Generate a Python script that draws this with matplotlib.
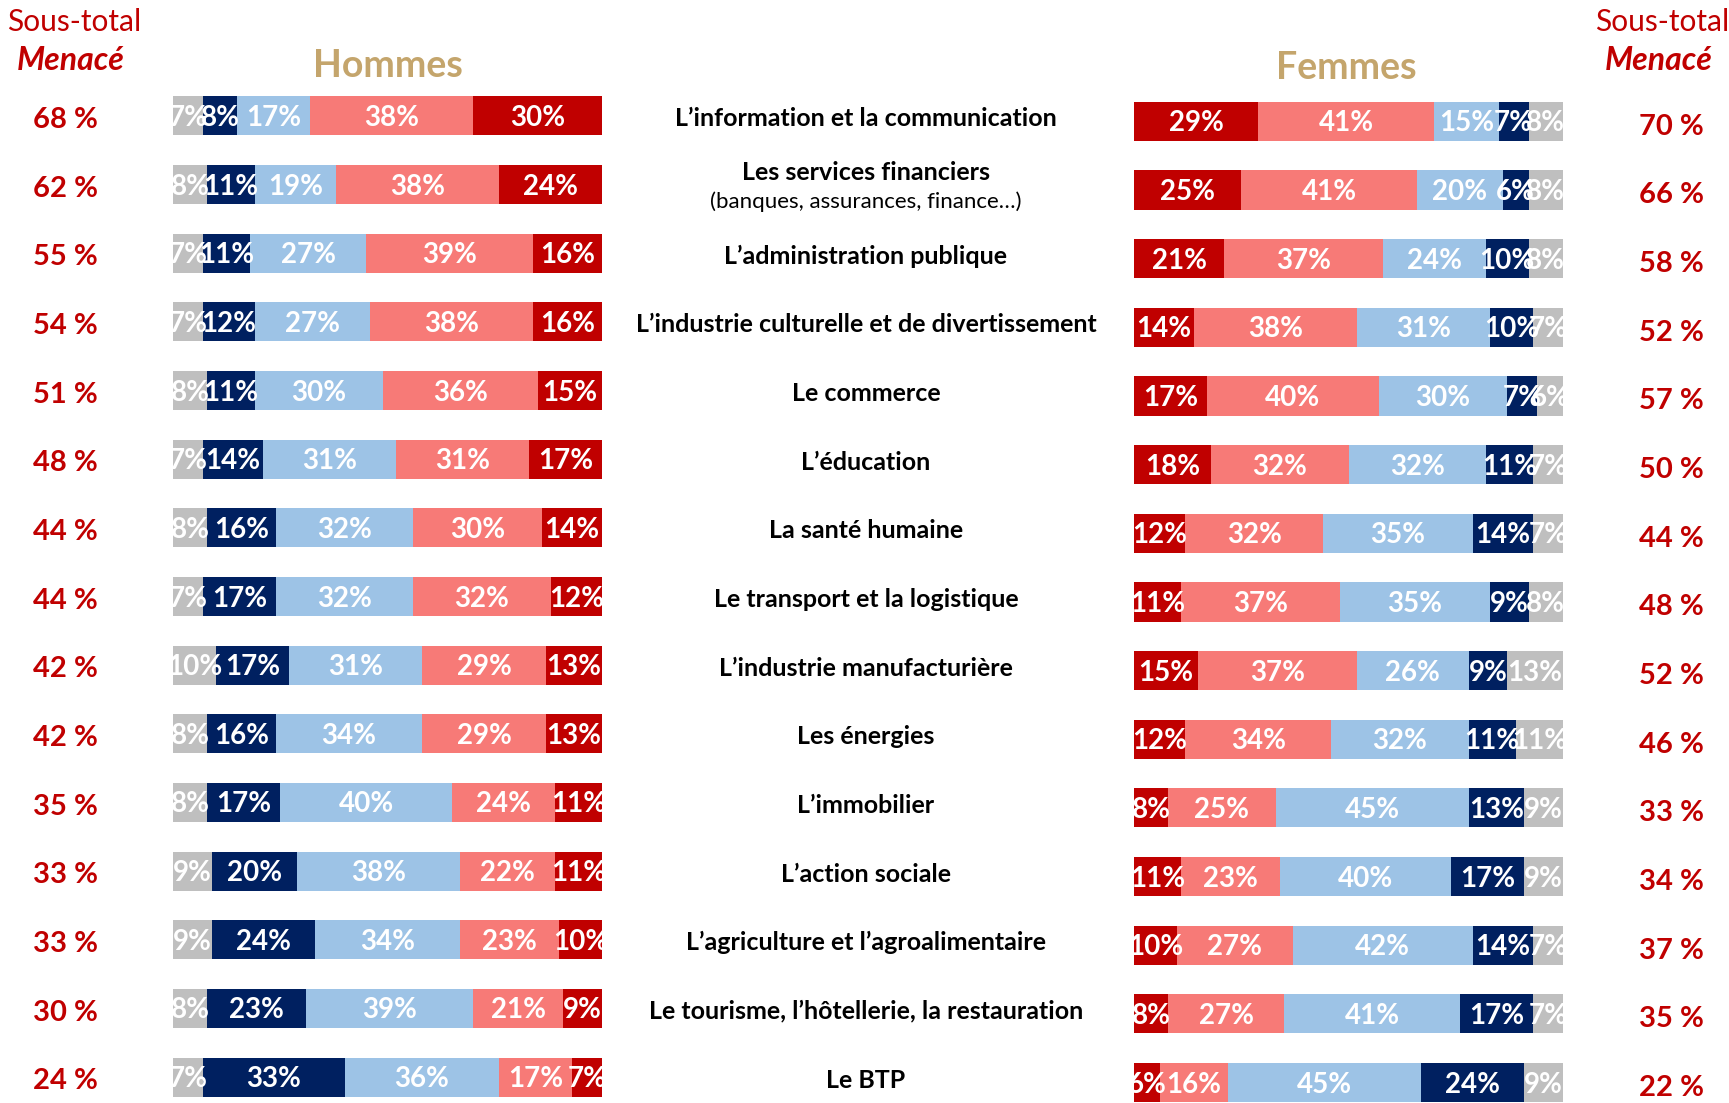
import matplotlib
matplotlib.use("Agg")
import matplotlib.pyplot as plt
from matplotlib.transforms import blended_transform_factory

plt.rcParams['font.family'] = ['Lato', 'DejaVu Sans']

secteurs = [
    "L’information et la communication",
    "Les services financiers",
    "L’administration publique",
    "L’industrie culturelle et de divertissement",
    "Le commerce",
    "L’éducation",
    "La santé humaine",
    "Le transport et la logistique",
    "L’industrie manufacturière",
    "Les énergies",
    "L’immobilier",
    "L’action sociale",
    "L’agriculture et l’agroalimentaire",
    "Le tourisme, l’hôtellerie, la restauration",
    "Le BTP",
]
sous_titres = {1: "(banques, assurances, finance…)"}

# Hommes, segments de gauche à droite
h_gris = [7, 8, 7, 7, 8, 7, 8, 7, 10, 8, 8, 9, 9, 8, 7]
h_marine = [8, 11, 11, 12, 11, 14, 16, 17, 17, 16, 17, 20, 24, 23, 33]
h_bleu = [17, 19, 27, 27, 30, 31, 32, 32, 31, 34, 40, 38, 34, 39, 36]
h_rose = [38, 38, 39, 38, 36, 31, 30, 32, 29, 29, 24, 22, 23, 21, 17]
h_rouge = [30, 24, 16, 16, 15, 17, 14, 12, 13, 13, 11, 11, 10, 9, 7]
h_total = [68, 62, 55, 54, 51, 48, 44, 44, 42, 42, 35, 33, 33, 30, 24]

# Femmes, segments de gauche à droite
f_rouge = [29, 25, 21, 14, 17, 18, 12, 11, 15, 12, 8, 11, 10, 8, 6]
f_rose = [41, 41, 37, 38, 40, 32, 32, 37, 37, 34, 25, 23, 27, 27, 16]
f_bleu = [15, 20, 24, 31, 30, 32, 35, 35, 26, 32, 45, 40, 42, 41, 45]
f_marine = [7, 6, 10, 10, 7, 11, 14, 9, 9, 11, 13, 17, 14, 17, 24]
f_gris = [8, 8, 8, 7, 6, 7, 7, 8, 13, 11, 9, 9, 7, 7, 9]
f_total = [70, 66, 58, 52, 57, 50, 44, 48, 52, 46, 33, 34, 37, 35, 22]

GRIS = "#BFBFBF"
MARINE = "#002060"
BLEU = "#9DC3E6"
ROSE = "#F77A77"
ROUGE = "#C00000"
TAN = "#C4A56C"

W, H = 1729, 1103
fig = plt.figure(figsize=(W / 100, H / 100), dpi=100)

n = len(secteurs)
row_px = 68.66
top_px = 81.5
ax_h = n * row_px / H


def make_axes(x0, x1, shift):
    bottom = 1 - (top_px + shift + n * row_px) / H
    ax = fig.add_axes([x0 / W, bottom, (x1 - x0) / W, ax_h])
    ax.set_xlim(0, 100)
    ax.set_ylim(n - 0.5, -0.5)
    ax.axis("off")
    return ax


ax_h_ = make_axes(173, 602, 0)
ax_f = make_axes(1134, 1563, 5.5)
ax_m = make_axes(640, 1092, 3)


def stacked(ax, series, colors):
    rows = range(n)
    left = [0] * n
    for vals, col in zip(series, colors):
        ax.barh(rows, vals, left=left, height=0.57, color=col, linewidth=0)
        for i in rows:
            t = ax.text(left[i] + vals[i] / 2, i + 0.03, f"{vals[i]}%",
                        ha="center", va="center", color="white",
                        fontsize=20, fontweight="bold", clip_on=True)
            t.set_clip_box(ax.bbox)
        left = [l + v for l, v in zip(left, vals)]


stacked(ax_h_, [h_gris, h_marine, h_bleu, h_rose, h_rouge],
        [GRIS, MARINE, BLEU, ROSE, ROUGE])
stacked(ax_f, [f_rouge, f_rose, f_bleu, f_marine, f_gris],
        [ROUGE, ROSE, BLEU, MARINE, GRIS])

# sous-totaux "menacé"
tr_h = blended_transform_factory(ax_h_.transAxes, ax_h_.transData)
tr_f = blended_transform_factory(ax_f.transAxes, ax_f.transData)
for i in range(n):
    ax_h_.text(-0.25, i + 0.06, f"{h_total[i]} %", transform=tr_h,
               ha="center", va="center", color=ROUGE, fontsize=21,
               fontweight="bold")
    ax_f.text(1.252, i + 0.08, f"{f_total[i]} %", transform=tr_f,
              ha="center", va="center", color=ROUGE, fontsize=21,
              fontweight="bold")

# libellés des secteurs
for i, nom in enumerate(secteurs):
    if i in sous_titres:
        ax_m.text(50, i - 0.22, nom, ha="center", va="center",
                  fontsize=18, fontweight="bold", color="black")
        ax_m.text(50, i + 0.2, sous_titres[i], ha="center", va="center",
                  fontsize=16, color="black")
    else:
        ax_m.text(50, i, nom, ha="center", va="center",
                  fontsize=18, fontweight="bold", color="black")

# en-têtes
fig.text(388 / W, 1 - 66 / H, "Hommes", ha="center", va="center",
         fontsize=27, fontweight="bold", color=TAN)
fig.text(1346 / W, 1 - 68 / H, "Femmes", ha="center", va="center",
         fontsize=27, fontweight="bold", color=TAN)
for xc in (74, 1662):
    fig.text(xc / W, 1 - 22 / H, "Sous-total", ha="center", va="center",
             fontsize=21.5, color=ROUGE)
    fig.text((xc - 3) / W, 1 - 60 / H, "Menacé", ha="center", va="center",
             fontsize=23, fontweight="bold", fontstyle="italic", color=ROUGE)

fig.savefig("out.png", dpi=100)
